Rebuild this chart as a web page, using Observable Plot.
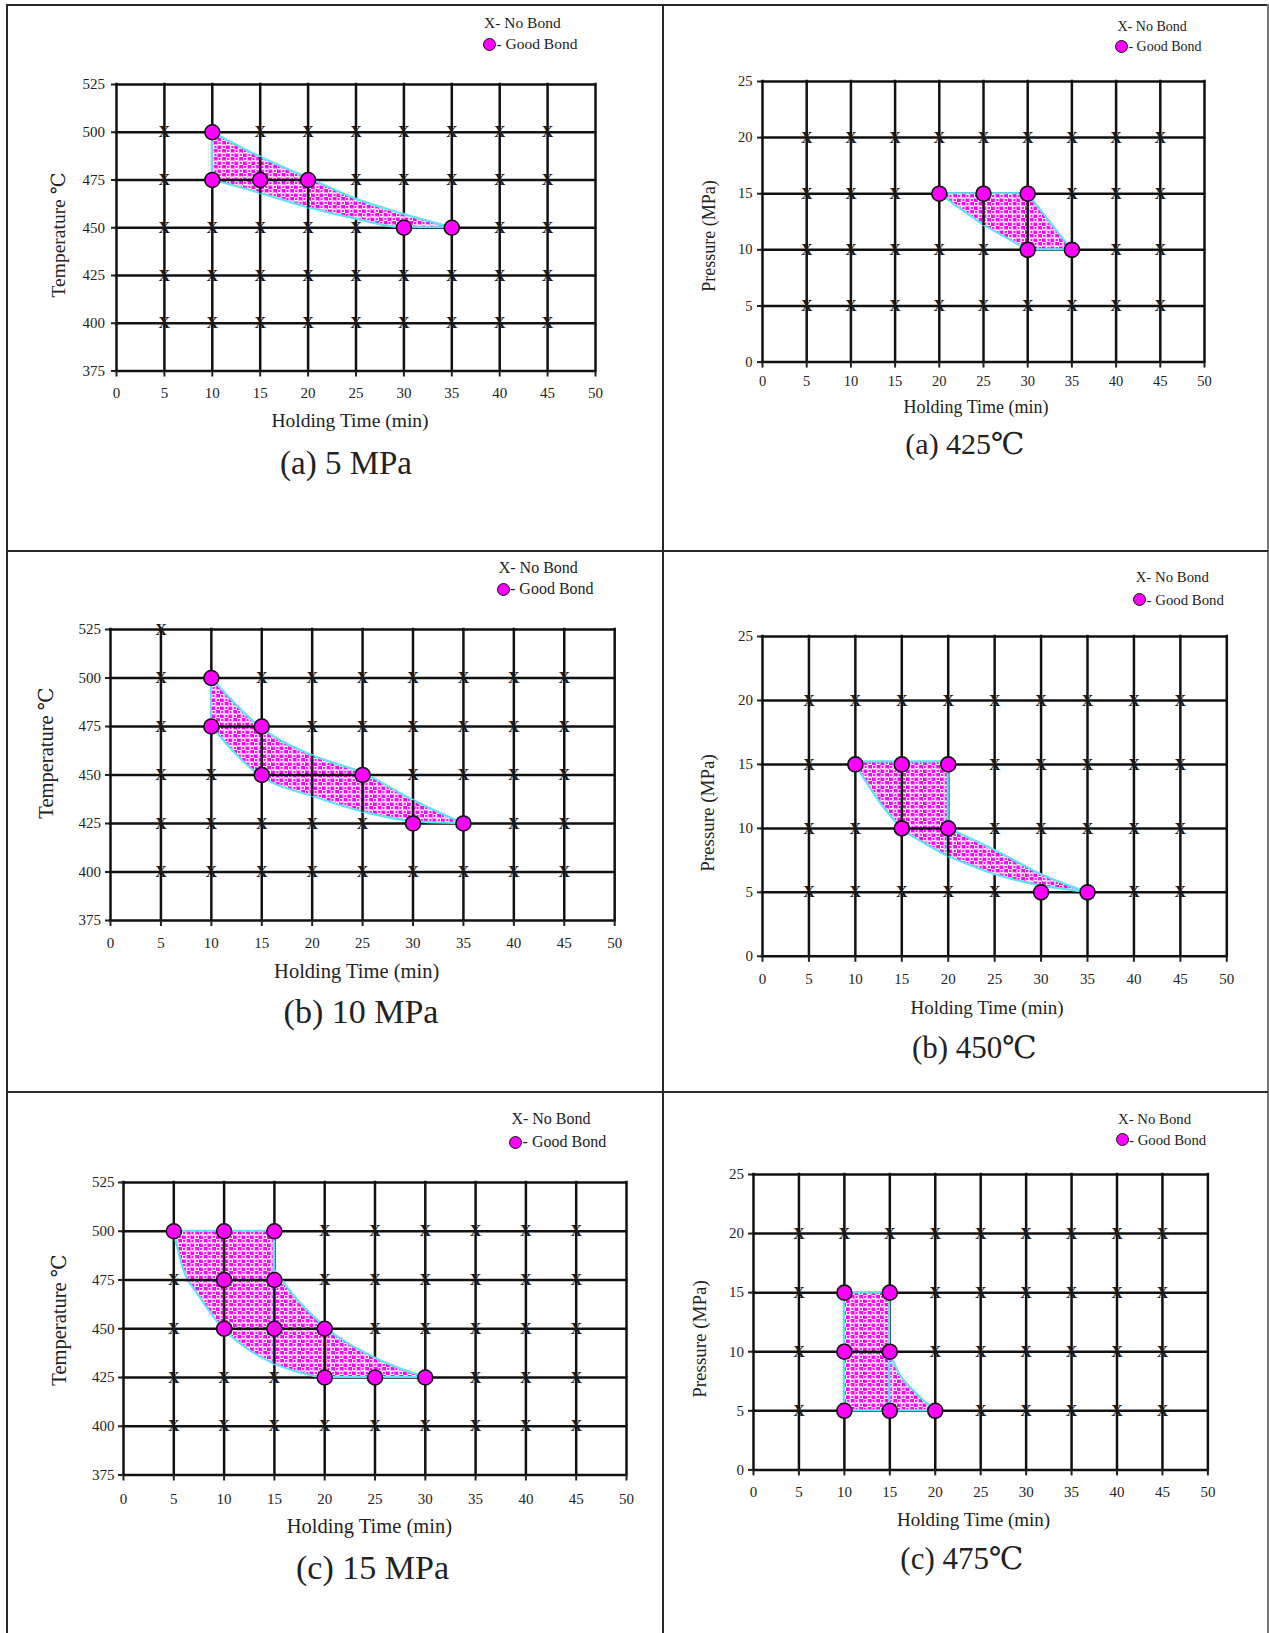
<!DOCTYPE html>
<html>
<head>
<meta charset="utf-8">
<script src="https://cdn.jsdelivr.net/npm/d3@7"></script>
<script src="https://cdn.jsdelivr.net/npm/@observablehq/plot@0.6"></script>
<style>
  html, body { margin: 0; padding: 0; background: #fff; }
  #page { position: relative; width: 1269px; height: 1633px; overflow: hidden; background: #fff;
          font-family: "Liberation Serif", "DejaVu Serif", "Noto Sans CJK SC", serif; color: #222; }
  .rule { position: absolute; background: #2a2a2a; }
  .t { position: absolute; white-space: nowrap; line-height: 1; }
  .panel { position: absolute; }
  .legdot { position: absolute; border-radius: 50%; background: #ff00ff; border: 1.5px solid #111; box-sizing: border-box; }
</style>
</head>
<body>
<svg width="0" height="0" style="position:absolute">
  <defs>
    <pattern id="bondPattern" patternUnits="userSpaceOnUse" width="8.5" height="8">
      <rect width="8.5" height="8" fill="#ff00ff"></rect>
      <circle cx="2.1" cy="2" r="2" fill="none" stroke="#ffffff" stroke-width="1.5"></circle>
      <circle cx="6.35" cy="6" r="2" fill="none" stroke="#ffffff" stroke-width="1.5"></circle>
    </pattern>
  </defs>
</svg>
<div id="page"></div>
<script>
// ---------------- data ----------------
const holdingTimeTicks = [0, 5, 10, 15, 20, 25, 30, 35, 40, 45, 50];
const temperatureTicks = [375, 400, 425, 450, 475, 500, 525];
const pressureTicks = [0, 5, 10, 15, 20, 25];

// grid intersections at which specimens were tested
const testedTimes = [5, 10, 15, 20, 25, 30, 35, 40, 45];
const testedTemperatures = [400, 425, 450, 475, 500];
const testedPressures = [5, 10, 15, 20];

// good bond points [holding time, temperature or pressure]
const goodBond5MPa = [[10, 500], [10, 475], [15, 475], [20, 475], [30, 450], [35, 450]];
const goodBond10MPa = [[10, 500], [10, 475], [15, 475], [15, 450], [25, 450], [30, 425], [35, 425]];
const goodBond15MPa = [[5, 500], [10, 500], [15, 500], [10, 475], [15, 475], [10, 450], [15, 450], [20, 450], [20, 425], [25, 425], [30, 425]];
const goodBond425C = [[20, 15], [25, 15], [30, 15], [30, 10], [35, 10]];
const goodBond450C = [[10, 15], [15, 15], [20, 15], [15, 10], [20, 10], [30, 5], [35, 5]];
const goodBond475C = [[10, 15], [15, 15], [10, 10], [15, 10], [10, 5], [15, 5], [20, 5]];

// extra no-bond marks outside the regular test grid
const extraNoBond10MPa = [[5, 525]];

// shaded good-bond regions (upper / lower boundary read at holding times)
const region5MPa = [
  { x: [10, 15, 20, 25, 30, 35], hi: [500, 487, 476, 465, 457, 450], lo: [475, 468, 460.5, 454.5, 450, 450] }
];
const region10MPa = [
  { x: [10, 15, 20, 25, 30, 35], hi: [500, 474, 460, 451, 437, 425], lo: [475, 449, 439, 431, 426, 425] }
];
const region15MPa = [
  { x: [5, 6, 7.5, 10, 12.5, 15], hi: [500, 500, 500, 500, 500, 500], lo: [500, 480, 467, 449.6, 439, 431.8] },
  { x: [15, 17.5, 20, 25, 30], hi: [480, 463.6, 451, 435, 425], lo: [431.8, 427.4, 425, 425, 425] }
];
const region425C = [
  { x: [20, 25, 30, 35], hi: [15, 15, 15, 10], lo: [15, 12.2, 10, 10], curve: "linear" }
];
const region450C = [
  { x: [10, 12.5, 15, 17.5, 20], hi: [15.2, 15.2, 15.2, 15.2, 15.2], lo: [15, 12.2, 10, 8.8, 7.8] },
  { x: [20, 25, 30, 35], hi: [10, 8.3, 6.4, 5], lo: [7.8, 6.4, 5.5, 5] }
];
const region475C = [
  { x: [10, 15], hi: [15, 15], lo: [5, 5], curve: "linear" },
  { x: [15, 16, 17.5, 20], hi: [10, 8.2, 6.8, 5], lo: [5, 5, 5, 5] }
];

// grid lines that stay visible across the shaded regions [x1, y1, x2, y2]
const innerLines5MPa = [[10, 475, 20, 475], [15, 487, 15, 468], [20, 476, 20, 460.5]];
const innerLines10MPa = [[10, 475, 15, 475], [15, 474, 15, 449], [15, 450, 25, 450], [20, 460, 20, 439], [25, 451, 25, 431], [30, 437, 30, 426]];
const innerLines15MPa = [[10, 500, 10, 450], [6.2, 475, 15, 475], [15, 475, 15, 432], [10, 450, 20, 450], [20, 450, 20, 425]];
const innerLines425C = [[25, 15, 25, 12.2], [30, 15, 30, 10]];
const innerLines450C = [[15, 15, 15, 10], [15, 10, 20, 10], [20, 10, 20, 7.8]];
const innerLines475C = [[10, 10, 15, 10]];

const captions = ["(a) 5 MPa", "(a) 425℃", "(b) 10 MPa", "(b) 450℃", "(c) 15 MPa", "(c) 475℃"];
const temperatureLabel = "Temperature ℃";
const pressureLabel = "Pressure (MPa)";
const timeLabel = "Holding Time (min)";
const legendNoBond = "X- No Bond";
const legendGoodBond = "- Good Bond";

// ---------------- layout (page pixels) ----------------
const layouts = [
  { l: 115.7, r: 594.7, t: 83.5, b: 370, xPad: 10.5, yPad: 6.5, tick: 15, yl: [59, 235], xl: [350, 421], axisFont: 19.5, cap: [346, 463], capFont: 33, leg: [484, 23, 489.5, 44], legFont: 15.5 },
  { l: 761.7, r: 1203.7, t: 80.7, b: 361.3, xPad: 7.5, yPad: 5, tick: 14.5, yl: [708.5, 236], xl: [976, 407], axisFont: 18, cap: [965, 444], capFont: 30, leg: [1117.5, 27.4, 1121.4, 46.6], legFont: 14 },
  { l: 110.3, r: 614.5, t: 629.2, b: 920.2, xPad: 10.5, yPad: 4.5, tick: 15, yl: [46.3, 753], xl: [356.7, 970.6], axisFont: 20.5, cap: [361, 1012], capFont: 34, leg: [498.7, 568, 503, 589], legFont: 16 },
  { l: 761.7, r: 1226, t: 636.2, b: 956, xPad: 11, yPad: 4.5, tick: 15, yl: [706.6, 813], xl: [987, 1007], axisFont: 19, cap: [974.5, 1047], capFont: 31, leg: [1135.7, 577, 1139.6, 599.7], legFont: 14.8 },
  { l: 123.3, r: 626.3, t: 1181.8, b: 1474.3, xPad: 12, yPad: 4, tick: 15, yl: [59, 1320], xl: [369.4, 1526.3], axisFont: 20.5, cap: [372.5, 1567.8], capFont: 34, leg: [511.4, 1119.4, 515.6, 1142], legFont: 16 },
  { l: 753.2, r: 1207.6, t: 1173.8, b: 1469.2, xPad: 10.5, yPad: 4.5, tick: 15, yl: [698.8, 1338.5], xl: [973.6, 1519.4], axisFont: 19, cap: [962, 1557.5], capFont: 31, leg: [1118, 1119.4, 1122, 1139.5], legFont: 14.8 }
];

const panels = [
  { good: goodBond5MPa, extra: [], levels: testedTemperatures, yTicks: temperatureTicks, region: region5MPa, inner: innerLines5MPa, yLabel: temperatureLabel },
  { good: goodBond425C, extra: [], levels: testedPressures, yTicks: pressureTicks, region: region425C, inner: innerLines425C, yLabel: pressureLabel },
  { good: goodBond10MPa, extra: extraNoBond10MPa, levels: testedTemperatures, yTicks: temperatureTicks, region: region10MPa, inner: innerLines10MPa, yLabel: temperatureLabel },
  { good: goodBond450C, extra: [], levels: testedPressures, yTicks: pressureTicks, region: region450C, inner: innerLines450C, yLabel: pressureLabel },
  { good: goodBond15MPa, extra: [], levels: testedTemperatures, yTicks: temperatureTicks, region: region15MPa, inner: innerLines15MPa, yLabel: temperatureLabel },
  { good: goodBond475C, extra: [], levels: testedPressures, yTicks: pressureTicks, region: region475C, inner: innerLines475C, yLabel: pressureLabel }
];

// ---------------- drawing ----------------
const page = document.getElementById("page");

function rule(x, y, w, h, color) {
  const d = document.createElement("div");
  d.className = "rule";
  Object.assign(d.style, { left: x + "px", top: y + "px", width: w + "px", height: h + "px" });
  if (color) d.style.background = color;
  page.append(d);
}
// table borders
rule(6, 3.5, 1262, 2);
rule(6, 3.5, 2, 1630);
rule(1266.5, 3.5, 2, 1630, "#777");
rule(662.3, 3.5, 2, 1630);
rule(6, 550, 1262, 2);
rule(6, 1091, 1262, 2);

function text(str, x, y, size, transform) {
  const d = document.createElement("div");
  d.className = "t";
  d.textContent = str;
  Object.assign(d.style, { left: x + "px", top: y + "px", fontSize: size + "px", transform });
  page.append(d);
  return d;
}

const LINE = "#111";
const LW = 2.5;

panels.forEach((p, i) => {
  const L = layouts[i];
  const ML = 60, MR = 15, MT = 15, MB = 42;
  const fw = L.r - L.l, fh = L.b - L.t;
  const yMin = p.yTicks[0], yMax = p.yTicks[p.yTicks.length - 1];

  const noBond = [];
  for (const y of p.levels) for (const x of testedTimes)
    if (!p.good.some(g => g[0] === x && g[1] === y)) noBond.push([x, y]);
  noBond.push(...p.extra);

  const chart = Plot.plot({
    width: fw + ML + MR,
    height: fh + MT + MB,
    marginLeft: ML, marginRight: MR, marginTop: MT, marginBottom: MB,
    x: { domain: [0, 50] },
    y: { domain: [yMin, yMax] },
    style: { fontFamily: '"Liberation Serif", "DejaVu Serif", serif', fontSize: L.tick + "px", color: "#222", background: "transparent", overflow: "visible" },
    marks: [
      Plot.ruleX(holdingTimeTicks, { x: d => d, y1: yMin, y2: yMax, stroke: LINE, strokeWidth: LW, strokeLinecap: "square" }),
      Plot.ruleY(p.yTicks, { y: d => d, x1: 0, x2: 50, stroke: LINE, strokeWidth: LW, strokeLinecap: "square" }),
      Plot.axisX({ ticks: holdingTimeTicks, tickSize: 6, tickPadding: L.xPad, fontSize: L.tick, label: null, strokeWidth: 2 }),
      Plot.axisY({ ticks: p.yTicks, tickSize: 5, tickPadding: L.yPad, fontSize: L.tick, label: null, strokeWidth: 2 }),
      Plot.text(noBond, { x: d => d[0], y: d => d[1], text: () => "X", fontSize: 16, fontWeight: "bold", fill: "#1a1a1a" }),
      ...p.region.map(part => Plot.areaY(
        part.x.map((x, k) => ({ x, lo: part.lo[k], hi: part.hi[k] })),
        { x: "x", y1: "lo", y2: "hi", fill: "url(#bondPattern)", stroke: "#5fe3f0", strokeWidth: 2.2, curve: part.curve || "monotone-x" })),
      Plot.link(p.inner, { x1: d => d[0], y1: d => d[1], x2: d => d[2], y2: d => d[3], stroke: LINE, strokeWidth: LW }),
      Plot.dot(p.good, { x: d => d[0], y: d => d[1], r: 7.5, fill: "#ff00ff", stroke: "#111", strokeWidth: 1.6 })
    ]
  });
  const holder = document.createElement("div");
  holder.className = "panel";
  holder.style.left = (L.l - ML) + "px";
  holder.style.top = (L.t - MT) + "px";
  holder.append(chart);
  page.append(holder);

  // axis titles
  text(p.yLabel, L.yl[0], L.yl[1], L.axisFont, "translate(-50%,-50%) rotate(-90deg)");
  text(timeLabel, L.xl[0], L.xl[1], L.axisFont, "translate(-50%,-50%)");
  // caption
  text(captions[i], L.cap[0], L.cap[1], L.capFont, "translate(-50%,-50%)");
  // legend
  const [lx, ly, cx, cy] = L.leg;
  text(legendNoBond, lx, ly, L.legFont, "translateY(-50%)");
  const dot = document.createElement("div");
  dot.className = "legdot";
  Object.assign(dot.style, { left: (cx - 6.5) + "px", top: (cy - 6.5) + "px", width: "13px", height: "13px" });
  page.append(dot);
  text(legendGoodBond, cx + 7, cy, L.legFont, "translateY(-50%)");
});
</script>
</body>
</html>
